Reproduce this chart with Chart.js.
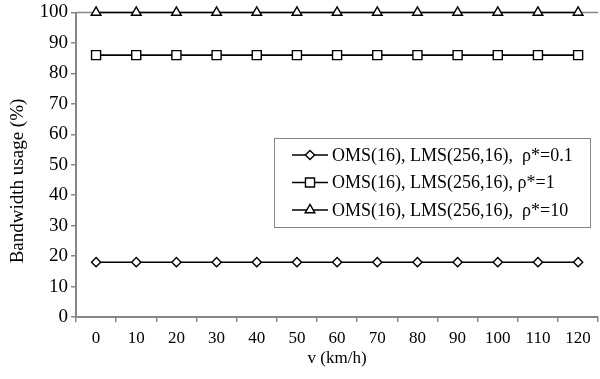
<!DOCTYPE html>
<html>
<head>
<meta charset="utf-8">
<script src="https://cdn.jsdelivr.net/npm/chart.js@4/dist/chart.umd.min.js"></script>
<style>
  html, body { margin: 0; padding: 0; background: #fff; overflow: hidden; width: 600px; height: 379px; }
  #wrap { position: relative; width: 606px; height: 379px; }
</style>
</head>
<body>
<div id="wrap"><canvas id="c" width="606" height="379"></canvas></div>
<script>
// Vehicle speed categories (km/h)
const speeds = ['0', '10', '20', '30', '40', '50', '60', '70', '80', '90', '100', '110', '120'];

// Series names
const seriesLabels = [
  'OMS(16), LMS(256,16),  \u03C1*=0.1',
  'OMS(16), LMS(256,16), \u03C1*=1',
  'OMS(16), LMS(256,16),  \u03C1*=10'
];

// Bandwidth usage (%) per speed
const usageRho01 = [18, 18, 18, 18, 18, 18, 18, 18, 18, 18, 18, 18, 18];
const usageRho1  = [86, 86, 86, 86, 86, 86, 86, 86, 86, 86, 86, 86, 86];
const usageRho10 = [100, 100, 100, 100, 100, 100, 100, 100, 100, 100, 100, 100, 100];

const yAxisTitle = 'Bandwidth usage (%)';
const xAxisTitle = 'v (km/h)';

const markerStyles = ['rectRot', 'rect', 'triangle'];
const markerRadius = [4.6, 6.4, 5.6];

const SERIF = '"Liberation Serif", "Times New Roman", serif';
const AXIS_GREY = '#868686';

function makeSeries(label, data, i) {
  return {
    label: label,
    data: data,
    borderColor: '#000',
    borderWidth: 1.6,
    pointStyle: markerStyles[i],
    pointRadius: markerRadius[i],
    pointHoverRadius: markerRadius[i],
    pointBackgroundColor: '#fff',
    pointBorderColor: '#000',
    pointBorderWidth: 1.4,
    tension: 0,
    clip: false
  };
}

// Top edge of the plot frame, drawn under the series
const frameTop = {
  id: 'frameTop',
  beforeDatasetsDraw(chart) {
    const { ctx, chartArea } = chart;
    ctx.save();
    ctx.strokeStyle = AXIS_GREY;
    ctx.lineWidth = 1.5;
    ctx.beginPath();
    ctx.moveTo(chartArea.left, chartArea.top);
    ctx.lineTo(chartArea.right, chartArea.top);
    ctx.stroke();
    ctx.restore();
  }
};

// Rotated y-axis caption, set a little below the axis middle
const yCaption = {
  id: 'yCaption',
  afterDraw(chart) {
    const { ctx } = chart;
    ctx.save();
    ctx.translate(18, 181);
    ctx.rotate(-Math.PI / 2);
    ctx.fillStyle = '#000';
    ctx.font = '19px ' + SERIF;
    ctx.textAlign = 'center';
    ctx.textBaseline = 'middle';
    ctx.fillText(yAxisTitle, 0, 0);
    ctx.restore();
  }
};

// Boxed legend with line + marker samples
const lineLegend = {
  id: 'lineLegend',
  afterDraw(chart) {
    const { ctx } = chart;
    const box = { left: 274, top: 138, width: 316, height: 89 };
    const rowTop = 155, rowGap = 27.5;
    ctx.save();
    ctx.fillStyle = '#fff';
    ctx.fillRect(box.left, box.top, box.width, box.height);
    ctx.strokeStyle = AXIS_GREY;
    ctx.lineWidth = 1;
    ctx.strokeRect(box.left + 0.5, box.top + 0.5, box.width, box.height);
    chart.data.datasets.forEach((ds, i) => {
      const y = rowTop + i * rowGap;
      ctx.strokeStyle = '#000';
      ctx.lineWidth = ds.borderWidth;
      ctx.beginPath();
      ctx.moveTo(292, y);
      ctx.lineTo(328, y);
      ctx.stroke();
      ctx.fillStyle = '#fff';
      ctx.strokeStyle = '#000';
      ctx.lineWidth = ds.pointBorderWidth;
      Chart.helpers.drawPoint(ctx, {
        pointStyle: ds.pointStyle,
        radius: ds.pointRadius,
        rotation: 0,
        borderWidth: ds.pointBorderWidth
      }, 310, y);
      ctx.fillStyle = '#000';
      ctx.font = '18px ' + SERIF;
      ctx.textBaseline = 'middle';
      ctx.textAlign = 'left';
      ctx.fillText(ds.label, 332, y + 1);
    });
    ctx.restore();
  }
};

new Chart(document.getElementById('c'), {
  type: 'line',
  data: {
    labels: speeds,
    datasets: [
      makeSeries(seriesLabels[0], usageRho01, 0),
      makeSeries(seriesLabels[1], usageRho1, 1),
      makeSeries(seriesLabels[2], usageRho10, 2)
    ]
  },
  options: {
    responsive: false,
    animation: false,
    layout: { padding: { top: 12, right: 1, left: 0, bottom: 0 } },
    plugins: {
      legend: { display: false },
      tooltip: { enabled: false }
    },
    scales: {
      x: {
        type: 'category',
        offset: true,
        grid: { offset: true, drawOnChartArea: false, drawTicks: true, tickLength: 5, color: AXIS_GREY, lineWidth: 1.5 },
        border: { color: AXIS_GREY, width: 2 },
        ticks: { color: '#000', font: { family: SERIF, size: 17 }, padding: 6, maxRotation: 0, autoSkip: false },
        title: { display: true, text: xAxisTitle, color: '#000', font: { family: SERIF, size: 17 }, padding: { top: 0, bottom: 10 } },
        afterFit(scale) { scale.height = 62; }
      },
      y: {
        min: 0,
        max: 100,
        ticks: { stepSize: 10, color: '#000', font: { family: SERIF, size: 19, lineHeight: 1 }, padding: 3 },
        grid: { drawOnChartArea: false, drawTicks: true, tickLength: 5, color: AXIS_GREY, lineWidth: 1.5 },
        border: { color: AXIS_GREY, width: 2 },
        title: { display: false },
        afterFit(scale) { scale.width = 76; }
      }
    }
  },
  plugins: [frameTop, yCaption, lineLegend]
});
</script>
</body>
</html>
